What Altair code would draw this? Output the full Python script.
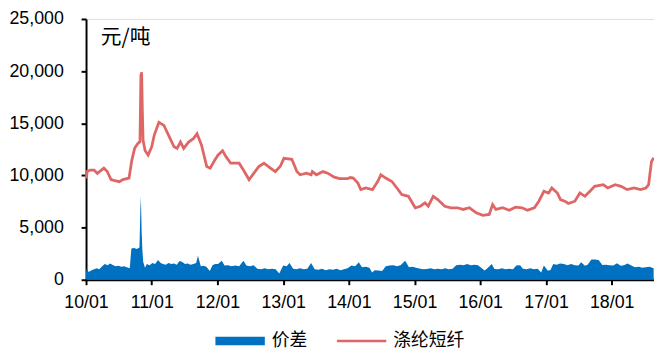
import altair as alt
import pandas as pd

# 涤纶短纤 price (元/吨)
price_dates = [
    "2010-01-01", "2010-01-08", "2010-01-25", "2010-02-15", "2010-03-05", "2010-04-10", "2010-04-28",
    "2010-05-20", "2010-06-10", "2010-07-05", "2010-07-25", "2010-08-28", "2010-09-12", "2010-09-28",
    "2010-10-15", "2010-10-28", "2010-11-02", "2010-11-04", "2010-11-06", "2010-11-10", "2010-11-14", "2010-11-25",
    "2010-12-12", "2011-01-01", "2011-01-15", "2011-02-10", "2011-03-10", "2011-04-05", "2011-05-05",
    "2011-05-22", "2011-06-10", "2011-06-28", "2011-07-25", "2011-08-22", "2011-09-10", "2011-10-05",
    "2011-11-03", "2011-11-22", "2011-12-18", "2012-01-05", "2012-01-30", "2012-02-18", "2012-03-15",
    "2012-05-01", "2012-05-30", "2012-06-25", "2012-07-22", "2012-08-18", "2012-09-16", "2012-10-22",
    "2012-11-18", "2012-12-15", "2013-01-05", "2013-02-18", "2013-03-18", "2013-04-05", "2013-05-10",
    "2013-06-05", "2013-06-12", "2013-07-05", "2013-08-10", "2013-09-05", "2013-10-12", "2013-11-10",
    "2013-12-25", "2014-01-10", "2014-01-25", "2014-02-20", "2014-03-08", "2014-04-05", "2014-05-12",
    "2014-06-10", "2014-06-28", "2014-07-25", "2014-08-28", "2014-09-25", "2014-10-22", "2014-11-28",
    "2015-01-05", "2015-02-02", "2015-02-28", "2015-03-18", "2015-04-15", "2015-05-10", "2015-06-18",
    "2015-07-22", "2015-08-28", "2015-09-28", "2015-11-02", "2015-12-10", "2016-01-15", "2016-02-20",
    "2016-03-10", "2016-03-28", "2016-05-05", "2016-06-10", "2016-07-15", "2016-08-20", "2016-09-20",
    "2016-10-28", "2016-11-22", "2016-12-20", "2017-01-15", "2017-02-02", "2017-03-05", "2017-03-22",
    "2017-04-15", "2017-05-05", "2017-06-10", "2017-07-08", "2017-08-05", "2017-09-02", "2017-09-28",
    "2017-11-15", "2017-12-10", "2018-01-20", "2018-02-22", "2018-03-28", "2018-05-05", "2018-06-10",
    "2018-07-10", "2018-07-25", "2018-08-02", "2018-08-10", "2018-08-22",
]
price_values = [
    9700, 10400, 10500, 10500, 10200, 10700, 10400,
    9600, 9500, 9400, 9600, 9750, 11400, 12600,
    13050, 13250, 19700, 19300, 19900, 16200, 13400, 12400,
    11950, 12750, 13850, 15100, 14800, 13850, 12750,
    12600, 13200, 12600, 13200, 13550, 14000, 12900,
    10850, 10700, 11480, 11960, 12370, 11800, 11170,
    11170, 10370, 9590, 10220, 10850, 11170, 10700,
    10370, 10850, 11640, 11550, 10370, 10060, 10220,
    10060, 10370, 10060, 10370, 10220, 9840, 9700,
    9700, 9800, 9750, 9270, 8640, 8800, 8640,
    9420, 10060, 9750, 9420, 8800, 8160, 8000,
    6900, 7050, 7370, 7050, 8000, 7690, 7050,
    6900, 6900, 6740, 6900, 6420, 6170, 6260,
    7210, 6740, 6900, 6670, 6960, 6900, 6670,
    6900, 7530, 8480, 8320, 8800, 8320, 7690,
    7530, 7310, 7530, 8320, 8000, 8480, 8950,
    9110, 8800, 9110, 8950, 8640, 8800, 8640,
    8800, 9110, 10220, 11320, 11700,
]

# 价差 spread (元/吨)
spread_dates = [
    "2010-01-01", "2010-01-05", "2010-01-15", "2010-02-01", "2010-02-15", "2010-03-01", "2010-03-15",
    "2010-04-01", "2010-04-15", "2010-05-01", "2010-05-15", "2010-06-01", "2010-06-15", "2010-07-01",
    "2010-07-15", "2010-08-01", "2010-08-15", "2010-09-01", "2010-09-10", "2010-09-25", "2010-10-10",
    "2010-10-25", "2010-10-30", "2010-11-02", "2010-11-06", "2010-11-10", "2010-11-15", "2010-11-25",
    "2010-12-05", "2010-12-20", "2011-01-05", "2011-01-20", "2011-02-05", "2011-02-20", "2011-03-05",
    "2011-03-20", "2011-04-05", "2011-04-20", "2011-05-05", "2011-05-20", "2011-06-05", "2011-06-20",
    "2011-07-05", "2011-07-20", "2011-08-05", "2011-08-20", "2011-09-05", "2011-09-15", "2011-10-01",
    "2011-10-15", "2011-11-01", "2011-11-20", "2011-12-05", "2011-12-20", "2012-01-05", "2012-01-25",
    "2012-02-10", "2012-03-01", "2012-03-20", "2012-04-10", "2012-05-01", "2012-05-25", "2012-06-10",
    "2012-07-01", "2012-07-20", "2012-08-10", "2012-09-01", "2012-09-20", "2012-10-10", "2012-11-01",
    "2012-11-20", "2012-12-10", "2013-01-01", "2013-01-20", "2013-02-05", "2013-02-25", "2013-03-15",
    "2013-04-05", "2013-04-25", "2013-05-15", "2013-06-05", "2013-06-25", "2013-07-15", "2013-08-05",
    "2013-08-25", "2013-09-15", "2013-10-05", "2013-10-25", "2013-11-15", "2013-12-05", "2013-12-25",
    "2014-01-15", "2014-02-05", "2014-02-25", "2014-03-15", "2014-04-05", "2014-04-25", "2014-05-10",
    "2014-05-25", "2014-06-15", "2014-07-05", "2014-07-25", "2014-08-15", "2014-09-05", "2014-09-25",
    "2014-10-15", "2014-11-10", "2014-12-01", "2014-12-20", "2015-01-10", "2015-02-01", "2015-02-20",
    "2015-03-10", "2015-04-01", "2015-04-20", "2015-05-10", "2015-06-01", "2015-06-20", "2015-07-10",
    "2015-08-01", "2015-08-20", "2015-09-10", "2015-10-01", "2015-10-20", "2015-11-10", "2015-12-01",
    "2015-12-20", "2016-01-10", "2016-01-25", "2016-02-10", "2016-03-05", "2016-03-20", "2016-04-10",
    "2016-05-01", "2016-05-20", "2016-06-10", "2016-07-01", "2016-07-20", "2016-08-10", "2016-08-25",
    "2016-09-15", "2016-10-05", "2016-10-25", "2016-11-15", "2016-12-05", "2016-12-20", "2017-01-10",
    "2017-01-25", "2017-02-10", "2017-03-01", "2017-03-20", "2017-04-10", "2017-04-30", "2017-05-20",
    "2017-06-10", "2017-06-30", "2017-07-15", "2017-08-05", "2017-08-20", "2017-09-10", "2017-09-30",
    "2017-10-20", "2017-11-10", "2017-11-30", "2017-12-20", "2018-01-10", "2018-01-30", "2018-02-20",
    "2018-03-10", "2018-03-30", "2018-04-20", "2018-05-10", "2018-06-01", "2018-06-20", "2018-07-10",
    "2018-07-30", "2018-08-22",
]
spread_values = [
    700, 1100, 750, 900, 1000, 1100, 1000,
    1300, 1500, 1400, 1550, 1400, 1300, 1350,
    1250, 1300, 1200, 1100, 3000, 3050, 2950,
    3100, 6700, 8000, 4600, 2900, 1700, 1150,
    1500, 1400, 1600, 1500, 1900, 1600, 1500,
    1450, 1600, 1500, 1550, 1450, 1800, 1700,
    1500, 1550, 1450, 1500, 1600, 2300, 1300,
    1350, 1250, 850, 1400, 1500, 1520, 1830,
    1360, 1400, 1300, 1360, 1300, 1830, 1360,
    1300, 1400, 1050, 1000, 1100, 1000, 1050,
    1000, 600, 1360, 1300, 1600, 1050, 1000,
    1100, 1000, 1050, 1600, 1000, 950, 1050,
    900, 1000, 950, 1050, 900, 1000, 1100,
    1360, 1300, 1680, 1200, 1250, 1150, 700,
    900, 880, 850, 1300, 1360, 1400, 1300,
    1400, 1830, 1200, 1250, 1150, 1050, 1000,
    1040, 1100, 1000, 1050, 1000, 1100, 1000,
    1050, 1400, 1450, 1400, 1500, 1400, 1450,
    1400, 1110, 880, 1100, 1520, 1040, 1000,
    1100, 1000, 1050, 1000, 1360, 1400, 1050,
    1000, 1100, 1000, 1050, 700, 1360, 880,
    900, 1520, 1450, 1550, 1500, 1400, 1500,
    1400, 1360, 1680, 1350, 1450, 1930, 1950,
    1900, 1420, 1450, 1400, 1360, 1580, 1350,
    1400, 1560, 1360, 1200, 1250, 1150, 1200,
    1250, 1100,
]

series_names = ["价差", "涤纶短纤"]
series_colors = ["#0070C0", "#E06666"]
year_ticks = list(range(2010, 2019))

FONT = "Liberation Sans, Noto Sans CJK SC, sans-serif"

price_df = pd.DataFrame({"date": [d + "T00:00:00" for d in price_dates], "value": price_values})
spread_df = pd.DataFrame({"date": [d + "T00:00:00" for d in spread_dates], "value": spread_values})
# legend-only rows, placed before the x domain so the clipped points never show
legend_df = pd.DataFrame({"series": series_names, "date": ["2009-06-01T00:00:00"] * 2, "value": [0, 0]})

x_scale = alt.Scale(domain=[alt.DateTime(year=2010, month=1, date=1),
                            alt.DateTime(year=2018, month=8, date=24)])
y_scale = alt.Scale(domain=[0, 25000], nice=False)

x_axis = alt.Axis(
    values=[alt.DateTime(year=y, month=1, date=1) for y in year_ticks],
    format="%y/%m", title=None, grid=False, labelAngle=0,
    tickSize=5, labelPadding=9, labelFontSize=18, labelColor="#000000",
    domainColor="#000000", domainWidth=2, tickColor="#000000", tickWidth=2,
    labelFont=FONT, labelOverlap=False, labelFlush=False, labelBound=False,
)
y_axis = alt.Axis(
    values=[0, 5000, 10000, 15000, 20000, 25000], format=",.0f", title=None, grid=False,
    tickSize=5, labelPadding=18, labelFontSize=18, labelColor="#000000",
    domainColor="#000000", domainWidth=2, tickColor="#000000", tickWidth=2,
    labelFont=FONT, labelOverlap=False, labelFlush=False,
)

area = alt.Chart(spread_df).mark_area(color="#0070C0", opacity=1).encode(
    x=alt.X("date:T", scale=x_scale, axis=x_axis),
    y=alt.Y("value:Q", scale=y_scale, axis=y_axis),
)

line = alt.Chart(price_df).mark_line(color="#E06666", strokeWidth=2.8).encode(
    x=alt.X("date:T", scale=x_scale),
    y=alt.Y("value:Q", scale=y_scale),
)

legend_props = dict(
    title=None, orient="none", legendX=131, legendY=301, direction="horizontal",
    symbolSize=2500, labelFontSize=18, labelFont=FONT, labelColor="#000000",
    labelOffset=7, columnPadding=30, padding=0, symbolStrokeWidth=0, symbolOpacity=1,
)

legend_layer = alt.Chart(legend_df).mark_point(filled=True, clip=True).encode(
    x=alt.X("date:T", scale=x_scale),
    y=alt.Y("value:Q", scale=y_scale),
    color=alt.Color("series:N", scale=alt.Scale(domain=series_names, range=series_colors),
                    legend=alt.Legend(**legend_props)),
    shape=alt.Shape("series:N", scale=alt.Scale(domain=series_names,
                                                range=["M-1,-0.17H1V0.17H-1Z", "M-1,-0.055H1V0.055H-1Z"]),
                    legend=alt.Legend(**legend_props)),
)

unit_text = alt.Chart(pd.DataFrame({"t": ["元/吨"]})).mark_text(
    align="left", baseline="middle", fontSize=21, font="Noto Sans CJK SC", color="#000000"
).encode(
    x=alt.datum(alt.DateTime(year=2010, month=3, date=24)),
    y=alt.datum(23130),
    text="t:N",
)

chart = alt.layer(area, line, unit_text, legend_layer).properties(
    width=575, height=264,
    autosize=alt.AutoSizeParams(type="none"),
    padding={"left": 79, "top": 9, "right": 0, "bottom": 69},
).configure_view(stroke=None).configure(background="#ffffff")

chart.save("out.html", embed_options={"renderer": "svg", "actions": False})
